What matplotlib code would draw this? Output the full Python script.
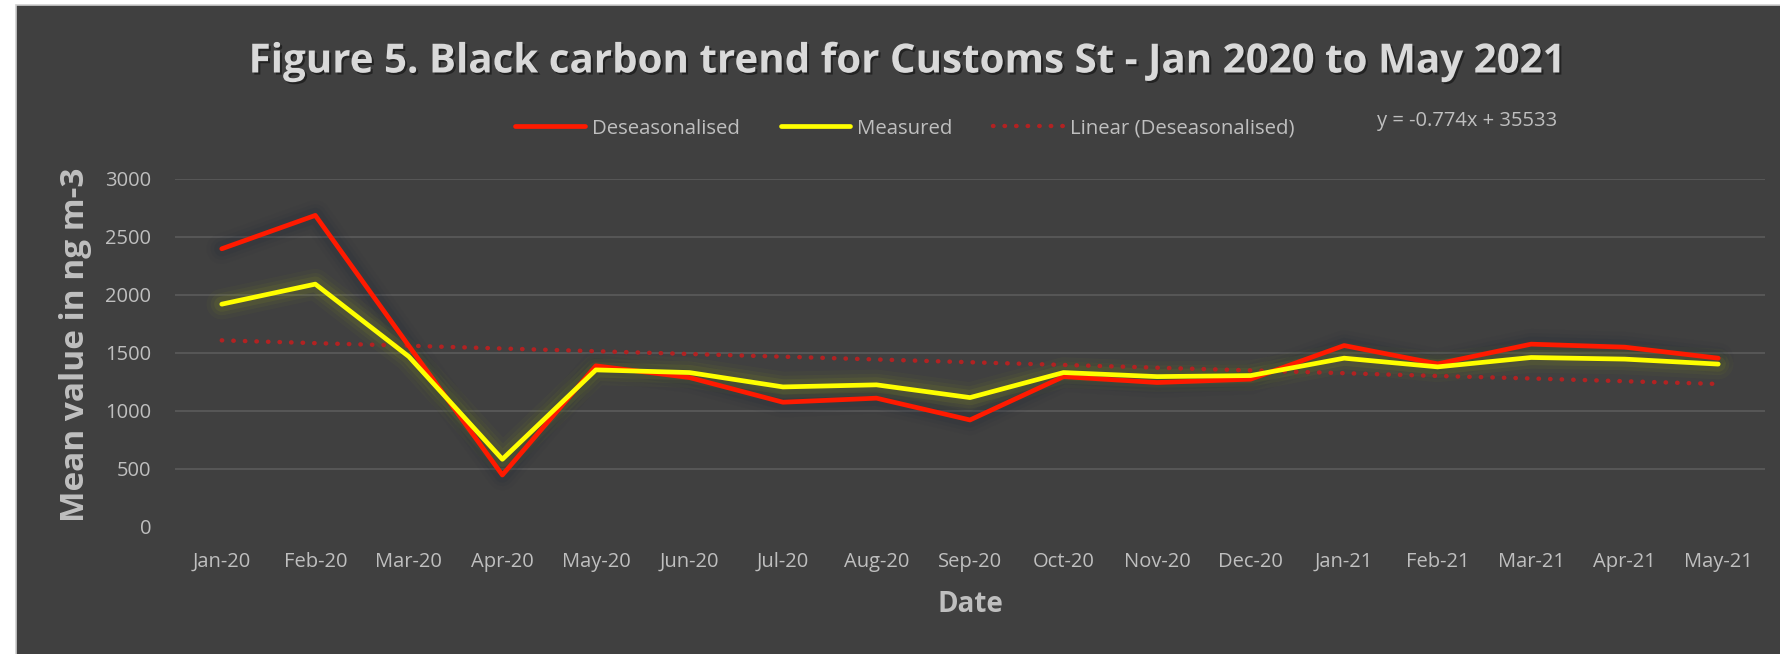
import pandas as pd
import matplotlib.pyplot as plt
import matplotlib.patheffects as pe
from matplotlib.patches import Rectangle

# Monthly mean black carbon, Customs St
months = ['Jan-20', 'Feb-20', 'Mar-20', 'Apr-20', 'May-20', 'Jun-20', 'Jul-20', 'Aug-20',
          'Sep-20', 'Oct-20', 'Nov-20', 'Dec-20', 'Jan-21', 'Feb-21', 'Mar-21', 'Apr-21', 'May-21']
deseasonalised = [2398, 2686, 1560, 446, 1388, 1287, 1074, 1109,
                  921, 1295, 1244, 1273, 1563, 1405, 1575, 1549, 1454]
measured = [1920, 2093, 1468, 582, 1353, 1330, 1206, 1224,
            1114, 1330, 1295, 1304, 1454, 1379, 1460, 1446, 1403]

# Excel linear trendline (x = Excel date serial)
trend_slope = -0.774
trend_intercept = 35533

dates = pd.to_datetime(months, format='%b-%y')
serials = (dates - pd.Timestamp('1899-12-30')).days.values
trend = trend_slope * serials + trend_intercept
x = list(range(len(months)))

bg = '#404040'
txt = '#bfbfbf'
plt.rcParams['font.family'] = ['Open Sans', 'DejaVu Sans']

W, H = 1781, 654
fig = plt.figure(figsize=(W / 100, H / 100), dpi=100)
fig.patch.set_facecolor('white')
fig.patches.append(Rectangle((16.5 / W, -0.01), 1, 1 + 0.01 - 5.5 / H, transform=fig.transFigure,
                             facecolor=bg, edgecolor='#cfcfcf', linewidth=1.2, zorder=-5))

ax = fig.add_axes([175 / W, 1 - 526.7 / H, (1765 - 175) / W, (526.7 - 179) / H])
ax.set_zorder(1)
ax.set_facecolor(bg)
for s in ax.spines.values():
    s.set_visible(False)

ax.set_xlim(-0.5, len(months) - 0.5)
ax.set_ylim(0, 3000)
ax.set_yticks(range(0, 3001, 500))
ax.set_xticks(x)
ax.set_xticklabels(months)
ax.tick_params(axis='both', length=0, colors=txt, labelsize=14.5)
ax.tick_params(axis='y', pad=17)
ax.tick_params(axis='x', pad=18)
ax.grid(axis='y', color='#595959', linewidth=1.3)
ax.get_ygridlines()[0].set_visible(False)
ax.set_axisbelow(True)

# soft glow under each series
for w, a in [(22, 0.05), (16, 0.08), (11, 0.12)]:
    ax.plot(x, deseasonalised, color='#1e2a3a', linewidth=w, alpha=a, solid_capstyle='round',
            solid_joinstyle='round', zorder=2)
    ax.plot(x, measured, color='#8c9a1c', linewidth=w, alpha=a, solid_capstyle='round',
            solid_joinstyle='round', zorder=2)

l1, = ax.plot(x, deseasonalised, color='#ff1a00', linewidth=3.4, solid_capstyle='round',
              label='Deseasonalised', zorder=4)
l2, = ax.plot(x, measured, color='#ffff00', linewidth=3.4, solid_capstyle='round',
              label='Measured', zorder=5)
l3, = ax.plot(x, trend, color='#b22222', linewidth=3.2, linestyle=(0, (0.1, 2.5)),
              dash_capstyle='round', label='Linear (Deseasonalised)', zorder=3)

ax.set_ylabel('Mean value in ng m-3', fontsize=24, fontweight='bold', color=txt)
ax.yaxis.set_label_coords(-0.052, 0.523)
ax.set_xlabel('Date', fontsize=20, fontweight='bold', color=txt, labelpad=13)

fig.text(906 / W, 1 - 62 / H, 'Figure 5. Black carbon trend for Customs St - Jan 2020 to May 2021',
         ha='center', va='center', fontsize=29, fontweight='bold', color='#d9d9d9',
         path_effects=[pe.withSimplePatchShadow(offset=(1.5, -1.5), shadow_rgbFace='black', alpha=0.45)])

leg = fig.legend(handles=[l1, l2, l3], loc='center left', bbox_to_anchor=(497 / W, 1 - 128.5 / H),
                 ncol=3, frameon=False, fontsize=14.7, handlelength=3.4, handletextpad=0.35,
                 columnspacing=2.0, labelcolor=txt)

fig.text(1467 / W, 1 - 120.7 / H, 'y = -0.774x + 35533', ha='center', va='center',
         fontsize=14.5, color=txt)

fig.savefig('out.png', dpi=100, facecolor=fig.get_facecolor())
